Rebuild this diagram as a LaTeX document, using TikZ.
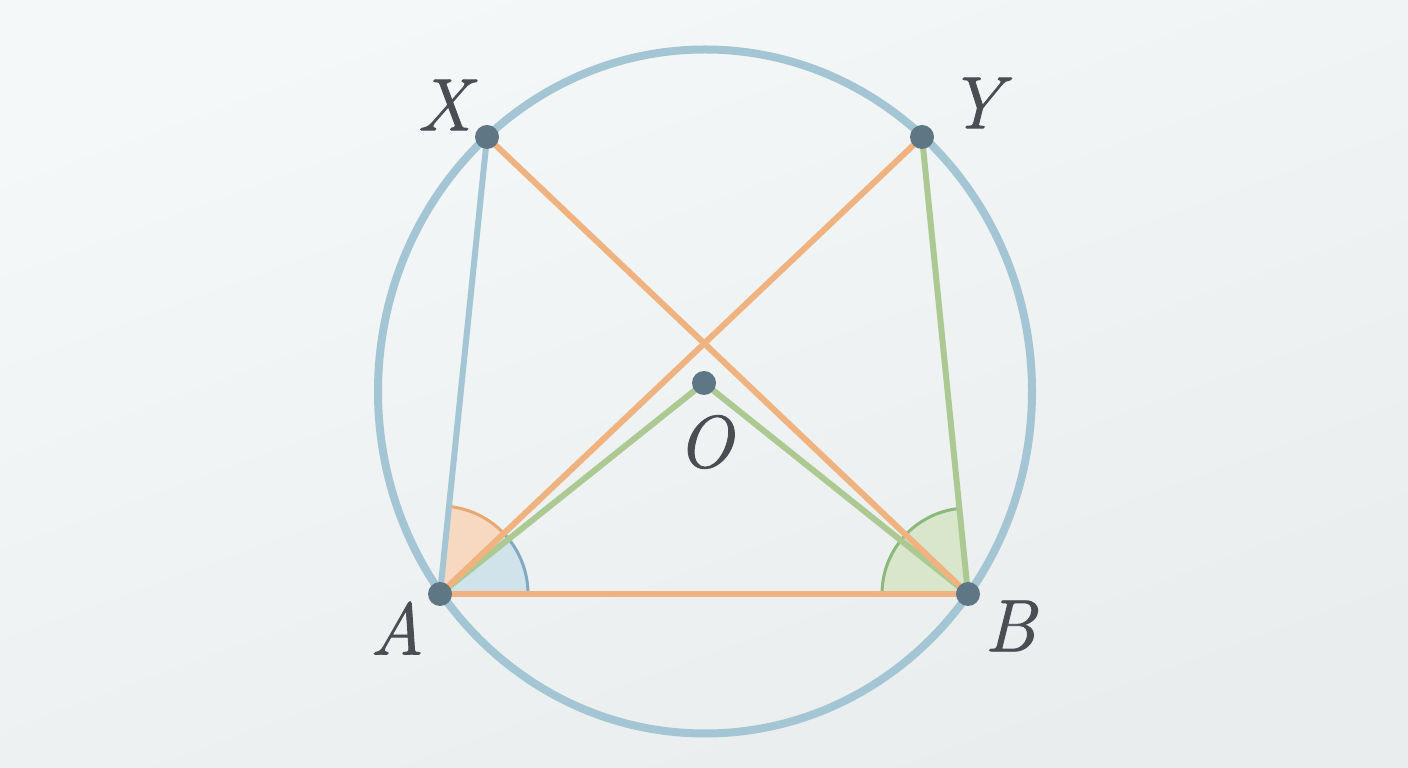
\documentclass[tikz,border=0pt]{standalone}
\usepackage{fontspec}
\newfontfamily\labfont[FakeBold=1.2]{Latin Modern Roman}
\usetikzlibrary{angles}
\definecolor{bgA}{HTML}{F5F8F8}
\definecolor{bgB}{HTML}{E9EDEE}
\definecolor{circ}{HTML}{A4C6D4}
\definecolor{orng}{HTML}{F0B27F}
\definecolor{grn}{HTML}{ADC993}
\definecolor{blu}{HTML}{A4C6D4}
\definecolor{dotc}{HTML}{5F7785}
\definecolor{lab}{HTML}{4A4E53}
\definecolor{ofill}{HTML}{F7D9C2}
\definecolor{oarc}{HTML}{E8A872}
\definecolor{bfill}{HTML}{D0E3EB}
\definecolor{barc}{HTML}{7FAAC2}
\definecolor{gfill}{HTML}{D8E7CB}
\definecolor{garc}{HTML}{8DB87B}
\tikzset{
  seg/.style={line width=6pt, line cap=round},
  ptdot/.style={circle, fill=dotc, minimum size=24pt, inner sep=0pt},
  lbl/.style={text=lab, font=\labfont\itshape\fontsize{74}{74}\selectfont, inner sep=0pt},
  wedge/.style={angle radius=88pt, line width=3pt}
}
\begin{document}
\begin{tikzpicture}[x=1pt,y=1pt]
\shade[top color=bgA, bottom color=bgB, shading angle=20] (0,0) rectangle (1408,768);
\useasboundingbox (0,0) rectangle (1408,768);
\coordinate (A) at (440,174);
\coordinate (B) at (968,174);
\coordinate (X) at (487,631);
\coordinate (Y) at (922,631);
\coordinate (O) at (704,385);
\coordinate (C) at (705,376.5);
% wedges
\pic[fill=ofill, draw=oarc, wedge] {angle=Y--A--X};
\pic[fill=bfill, draw=barc, wedge] {angle=B--A--Y};
\pic[fill=gfill, draw=garc, wedge, angle radius=86pt] {angle=Y--B--A};
% segments
\draw[seg, draw=orng] (A) -- (B);
\draw[seg, draw=grn] (A) -- (O);
\draw[seg, draw=grn] (O) -- (B);
\draw[seg, draw=orng] (A) -- (Y);
\draw[seg, draw=orng] (X) -- (B);
\draw[seg, draw=blu] (A) -- (X);
\draw[seg, draw=grn] (B) -- (Y);
% circle
\draw[circ, line width=8pt] (C) ellipse [x radius=327, y radius=342];
% dots
\node[ptdot] (nA) at (A) {};
\node[ptdot] (nB) at (B) {};
\node[ptdot] (nX) at (X) {};
\node[ptdot] (nY) at (Y) {};
\node[ptdot] (nO) at (O) {};
% labels
\node[lbl] (lX) at (444,663) {X};
\node[lbl] (lY) at (975,665) {Y};
\node[lbl] (lA) at (397,140) {A};
\node[lbl] (lB) at (1010,142) {B};
\node[lbl] (lO) at (705,326) {O};
\end{tikzpicture}
\end{document}
